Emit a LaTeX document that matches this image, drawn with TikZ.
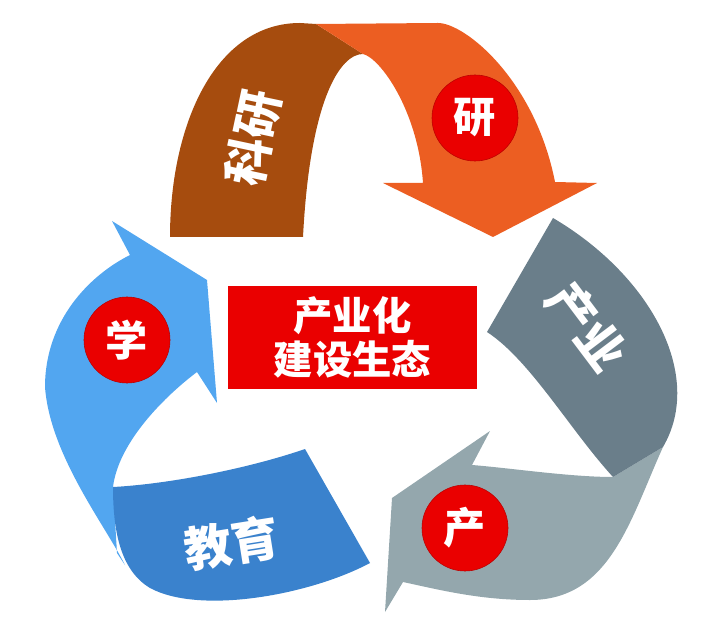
\documentclass[tikz,border=0pt]{standalone}
\usepackage{fontspec}
\newfontfamily\cjk{Noto Sans CJK SC}
\definecolor{rustbrown}{RGB}{166,76,14}
\definecolor{flameorange}{RGB}{236,94,34}
\definecolor{slatedark}{RGB}{106,126,138}
\definecolor{slatelight}{RGB}{148,167,173}
\definecolor{skyblue}{RGB}{82,166,240}
\definecolor{deepblue}{RGB}{58,130,205}
\definecolor{signalred}{RGB}{234,0,0}

\tikzset{
  badge/.style={circle,fill=signalred,draw=signalred!80!black,thin,minimum size=2.15cm,inner sep=0pt,
    text=white,font=\cjk\bfseries\fontsize{30}{30}\selectfont},
  bandtext/.style={text=white,inner sep=0pt,font=\cjk\bfseries\fontsize{34}{34}\selectfont},
  hubbox/.style={rectangle,fill=signalred,minimum width=6.225cm,minimum height=2.575cm,align=center,
    text=white,font=\cjk\bfseries\fontsize{28}{31}\selectfont}
}

\begin{document}
\begin{tikzpicture}[x=0.025cm,y=-0.025cm]

\useasboundingbox (0,0) rectangle (720,628);

% top arch: 科研
\fill[rustbrown] (170,237) .. controls (170,125) and (215,23) .. (300,23) -- (316,24)
  -- (363,54) .. controls (340,54) and (310,100) .. (303,237) -- cycle;
\fill[flameorange] (316,24) -- (438,23) .. controls (465,23) and (535,80) .. (555,182)
  -- (597,183) -- (493,237) -- (383,183) -- (423,183)
  .. controls (418,110) and (380,58) .. (363,54) -- cycle;

% right arch: 产业
\fill[slatelight] (663,447) .. controls (630,520) and (610,600) .. (530,600)
  .. controls (480,600) and (440,590) .. (403,582)
  -- (385,612) -- (392,498) -- (490,431) -- (472,465)
  .. controls (510,468) and (570,477) .. (613,477) -- cycle;
\fill[slatedark] (553,218) .. controls (650,275) and (705,375) .. (663,447)
  -- (613,477) .. controls (570,430) and (530,360) .. (487,332) -- cycle;

% left arch: 教育
\fill[skyblue] (112,221) -- (207,280) -- (217,403) -- (197,372)
  .. controls (160,400) and (118,445) .. (113,487) -- (117,553) -- (125,565)
  .. controls (105,525) and (50,455) .. (45,387) .. controls (45,320) and (90,275) .. (130,255) -- cycle;
\fill[deepblue] (305,449) -- (370,563) .. controls (310,595) and (200,615) .. (150,588)
  .. controls (120,570) and (113,530) .. (113,487)
  .. controls (170,484) and (250,468) .. (305,449) -- cycle;

\node[hubbox] (hub) at (352.5,337.5) {产业化\\建设生态};

\node[badge] (yan) at (475,118) {研};
\node[badge] (chan) at (465,528) {产};
\node[badge] (xue) at (127,340) {学};

\node[bandtext,rotate=78] (keyan) at (253,138) {科研};
\node[bandtext,rotate=-53] (chanye) at (587,327) {产业};
\node[bandtext,rotate=9] (jiaoyu) at (232,543) {教育};

\end{tikzpicture}
\end{document}
